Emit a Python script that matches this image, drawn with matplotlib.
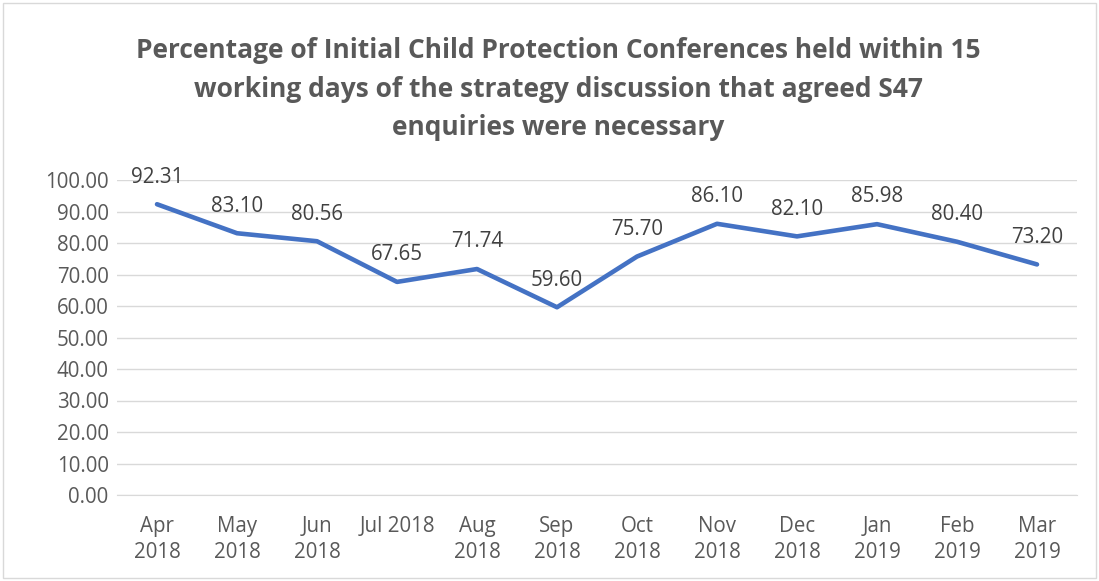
import matplotlib.pyplot as plt
from matplotlib.patches import Rectangle

months = ["Apr\n2018", "May\n2018", "Jun\n2018", "Jul 2018", "Aug\n2018", "Sep\n2018",
          "Oct\n2018", "Nov\n2018", "Dec\n2018", "Jan\n2019", "Feb\n2019", "Mar\n2019"]
values = [92.31, 83.10, 80.56, 67.65, 71.74, 59.60, 75.70, 86.10, 82.10, 85.98, 80.40, 73.20]
title = ("Percentage of Initial Child Protection Conferences held within 15\n"
         "working days of the strategy discussion that agreed S47\n"
         "enquiries were necessary")

plt.rcParams['font.family'] = ['Open Sans', 'DejaVu Sans']
W, H = 1099, 581
fig = plt.figure(figsize=(W / 100, H / 100), dpi=100)
fig.patches.append(Rectangle((3 / W, 3 / H), 1 - 6 / W, 1 - 6 / H, transform=fig.transFigure,
                             fill=False, edgecolor="#d9d9d9", linewidth=1))

ax = fig.add_axes([117 / W, 1 - 495 / H, (1077 - 117) / W, (495 - 180) / H])
x = range(len(values))
ax.plot(x, values, color="#4472C4", linewidth=3.3, solid_joinstyle="round",
        solid_capstyle="round")
for i, v in zip(x, values):
    ax.annotate(f"{v:.2f}", (i, v), xytext=(0, 12), textcoords="offset points",
                ha="center", va="bottom", fontsize=14.8, color="#404040")

ax.set_xlim(-0.5, len(values) - 0.5)
ax.set_ylim(0, 100)
ax.set_yticks(range(0, 101, 10))
ax.set_yticklabels([f"{t:.2f}" for t in range(0, 101, 10)])
ax.set_xticks(list(x))
ax.set_xticklabels(months, va="top", linespacing=1.35)
ax.tick_params(axis="both", length=0, labelsize=14.8, labelcolor="#595959")
ax.tick_params(axis="x", pad=15)
ax.tick_params(axis="y", pad=6)
ax.grid(axis="y", color="#d9d9d9", linewidth=1)
ax.set_axisbelow(True)
for s in ["top", "right", "left"]:
    ax.spines[s].set_visible(False)
ax.spines["bottom"].set_color("#d9d9d9")

fig.text(0.508, 1 - 37 / H, title, ha="center", va="top", fontsize=19,
         fontweight="bold", color="#595959", linespacing=1.55)

fig.savefig("out.png", dpi=100)
